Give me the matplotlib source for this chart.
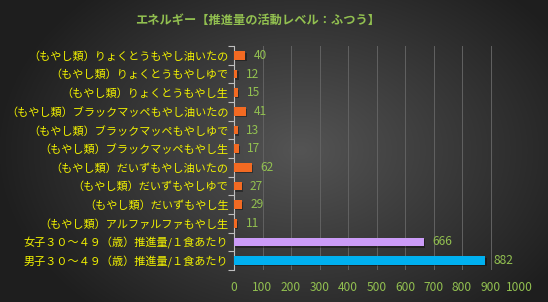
import numpy as np
import matplotlib
matplotlib.use('Agg')
import matplotlib.pyplot as plt

plt.rcParams['font.family'] = ['Noto Sans CJK JP', 'DejaVu Sans']

# chart data (top to bottom)
categories = [
    '（もやし類）りょくとうもやし油いたの',
    '（もやし類）りょくとうもやしゆで',
    '（もやし類）りょくとうもやし生',
    '（もやし類）ブラックマッペもやし油いたの',
    '（もやし類）ブラックマッペもやしゆで',
    '（もやし類）ブラックマッペもやし生',
    '（もやし類）だいずもやし油いたの',
    '（もやし類）だいずもやしゆで',
    '（もやし類）だいずもやし生',
    '（もやし類）アルファルファもやし生',
    '女子３０～４９（歳）推進量/１食あたり',
    '男子３０～４９（歳）推進量/１食あたり',
]
values = [40, 12, 15, 41, 13, 17, 62, 27, 29, 11, 666, 882]
xticks = [0, 100, 200, 300, 400, 500, 600, 700, 800, 900, 1000]
title = 'エネルギー【推進量の活動レベル：ふつう】'

orange = '#F36A22'
purple = '#CC9CF8'
blue = '#00B0F0'
bar_colors = [orange] * 10 + [purple, blue]
green = '#92C050'
yellow = '#F2F200'

fig = plt.figure(figsize=(5.48, 3.02), dpi=100)

# radial dark background
bg = fig.add_axes([0, 0, 1, 1], zorder=-10)
yy, xx = np.mgrid[0:302, 0:548]
r = np.sqrt(((xx - 300) / 548.0) ** 2 + ((yy - 150) / 302.0) ** 2 * 0.6)
shade = np.clip(0.33 - r * 0.38, 0.12, 0.33)
bg.imshow(np.dstack([shade, shade, shade]), aspect='auto', extent=[0, 1, 0, 1])
bg.set_axis_off()

ax = fig.add_axes([234 / 548, 1 - 270 / 302, 285 / 548, 224 / 302])
ax.patch.set_alpha(0)
pos = np.arange(len(categories))

# soft shadow then bars
ax.barh(pos + 0.08, values, height=0.45, left=4, color='black', alpha=0.35, zorder=2)
ax.barh(pos, values, height=0.45, color=bar_colors, zorder=3)

for p, v in zip(pos, values):
    ax.annotate(str(v), (v, p), xytext=(6, 0), textcoords='offset points',
                va='center', ha='left', color=green, fontsize=8.6)

ax.set_xlim(0, 1000)
ax.set_ylim(len(categories) - 0.5, -0.5)
ax.set_xticks(xticks)
ax.set_xticklabels([str(t) for t in xticks], color=green, fontsize=8.6)
ax.tick_params(axis='x', length=0, pad=8)
ax.set_yticks(pos)
ax.set_yticklabels(categories, color=yellow, fontsize=8)
ax.tick_params(axis='y', which='major', length=0, pad=4)
ax.set_yticks(np.arange(-0.5, len(categories)), minor=True)
ax.tick_params(axis='y', which='minor', length=4, color='#BFBFBF', width=0.8)

ax.grid(axis='x', color='#626262', linewidth=0.7, zorder=0)
ax.set_axisbelow(True)
for s in ['top', 'right', 'bottom']:
    ax.spines[s].set_visible(False)
ax.spines['left'].set_color('#BFBFBF')
ax.spines['left'].set_linewidth(0.8)

fig.text(258 / 548, 1 - 20 / 302, title, color=green, fontsize=8.8,
         fontweight='bold', ha='center', va='center')

fig.savefig('out.png', dpi=100)
